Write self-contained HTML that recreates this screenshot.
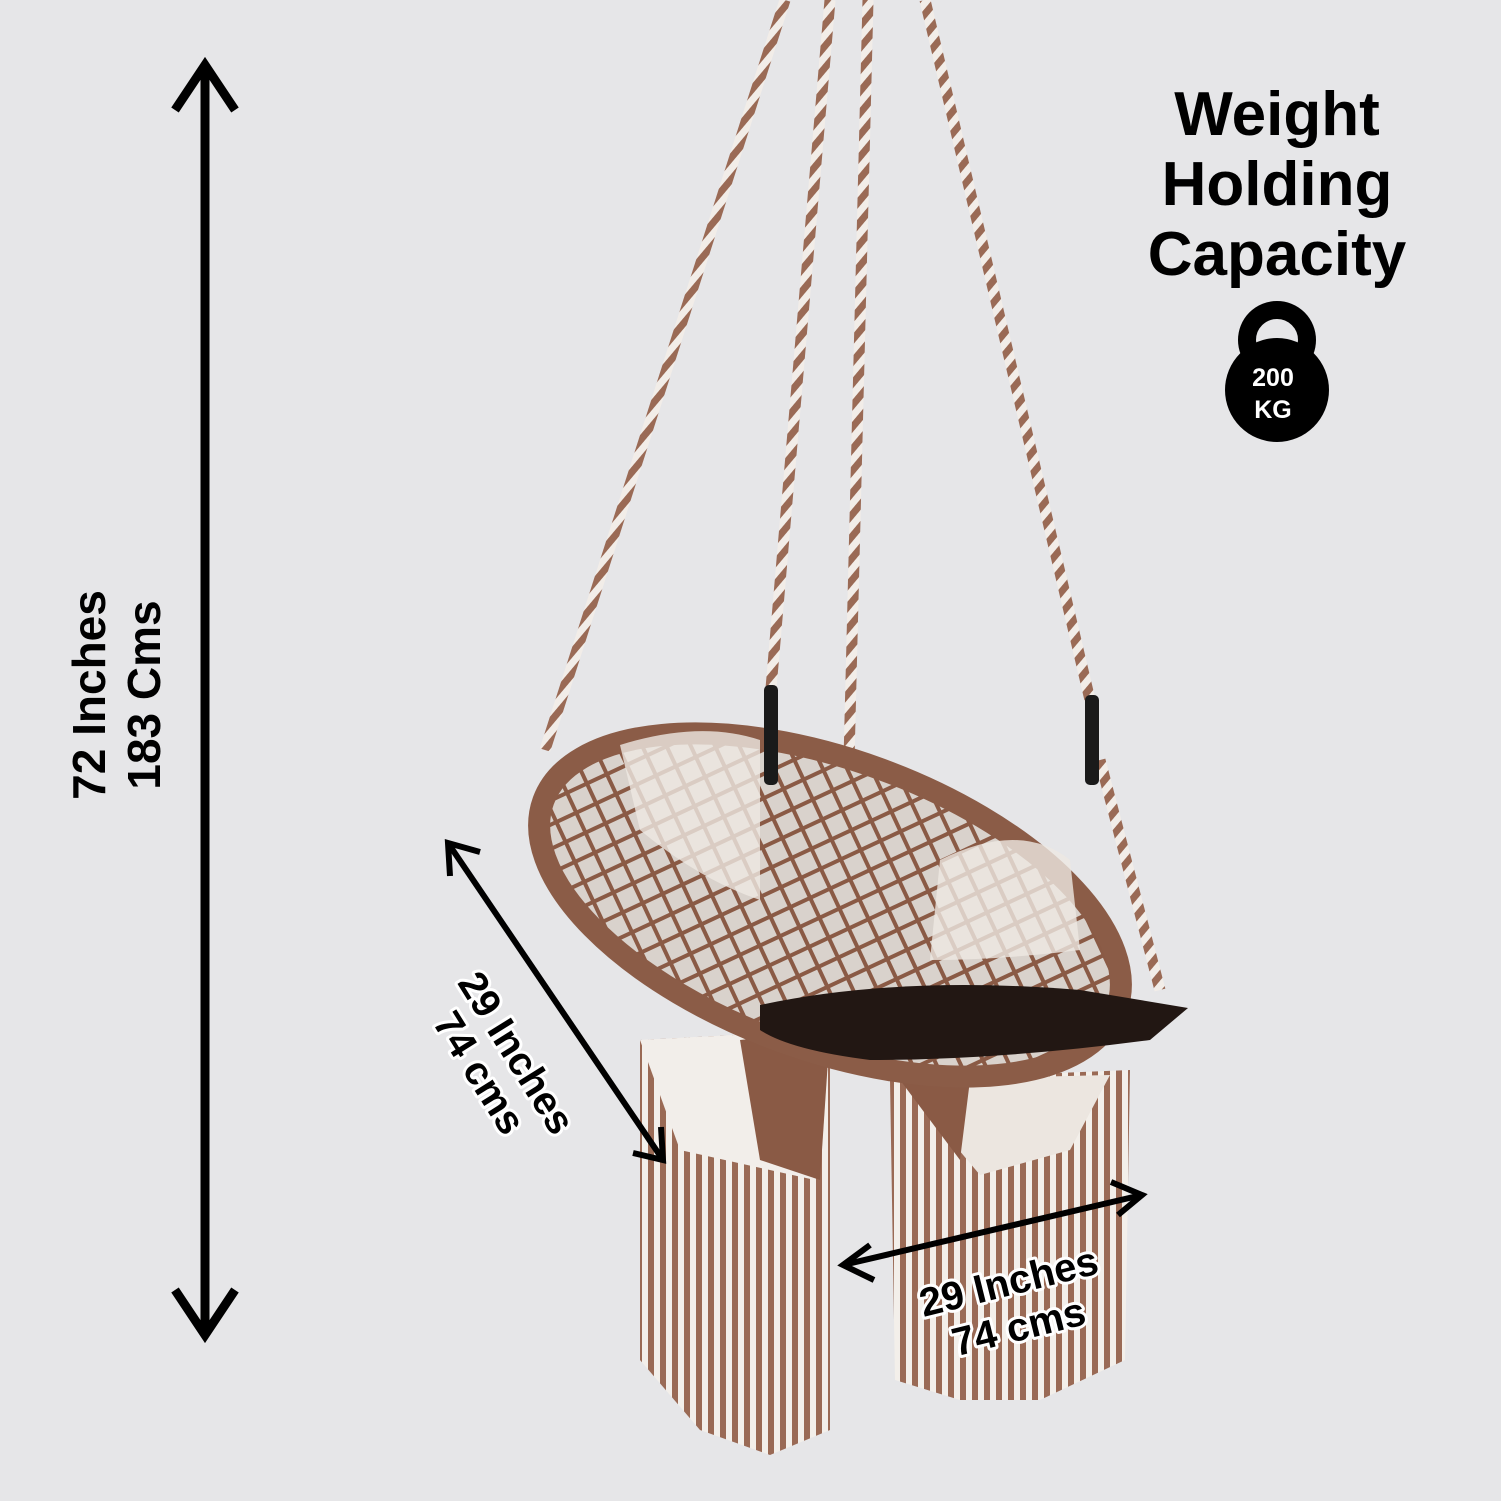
<!DOCTYPE html>
<html><head><meta charset="utf-8"><style>
html,body{margin:0;padding:0;background:#e6e6e8;}
svg{display:block}
text{font-family:"Liberation Sans",sans-serif;font-weight:bold;}
</style></head><body>
<svg width="1501" height="1501" viewBox="0 0 1501 1501" xmlns="http://www.w3.org/2000/svg">
<rect width="1501" height="1501" fill="#e6e6e8"/>
<defs>
<pattern id="rope" width="14" height="14" patternUnits="userSpaceOnUse" patternTransform="rotate(40)">
<rect width="14" height="14" fill="#f2ede8"/><rect width="7" height="14" fill="#9a6a55"/></pattern>
<pattern id="net" width="22" height="22" patternUnits="userSpaceOnUse" patternTransform="rotate(45)">
<rect width="22" height="22" fill="#d9d2cc"/><rect width="22" height="4" fill="#8a5a45"/><rect width="4" height="22" fill="#8a5a45"/></pattern>
<pattern id="fringe" width="12" height="20" patternUnits="userSpaceOnUse">
<rect width="12" height="20" fill="#f3efea"/><rect width="6" height="20" fill="#9a6a55"/></pattern>
</defs>
<g stroke="url(#rope)" stroke-width="11" fill="none">
<line x1="785" y1="0" x2="545" y2="750"/>
<line x1="830" y1="0" x2="770" y2="700"/>
<line x1="868" y1="0" x2="848" y2="800"/>
<line x1="925" y1="0" x2="1090" y2="700"/>
<line x1="1100" y1="760" x2="1160" y2="990"/>
</g>
<path d="M640 1040 L830 1030 L830 1430 L770 1455 L700 1430 L640 1360 Z" fill="url(#fringe)"/>
<path d="M890 1080 L1130 1070 L1125 1360 L1040 1400 L960 1400 L895 1380 Z" fill="url(#fringe)"/>
<path d="M640 1040 L830 1030 L815 1180 L680 1150 Z" fill="#f2eeea"/>
<path d="M740 1040 L830 1030 L820 1180 L760 1160 Z" fill="#8a5a45"/>
<path d="M900 1080 L1110 1075 L1070 1150 L980 1175 Z" fill="#ece6e0"/>
<path d="M900 1080 L970 1080 L960 1160 Z" fill="#8a5a45"/>
<g transform="rotate(20 830 905)">
<ellipse cx="830" cy="905" rx="305" ry="145" fill="url(#net)"/>
<ellipse cx="830" cy="905" rx="305" ry="145" fill="none" stroke="#8b5c47" stroke-width="22"/>
</g>
<path d="M620 745 Q700 720 760 740 L760 900 Q700 880 640 830 Z" fill="#eee8e2" opacity="0.8"/>
<path d="M940 860 Q1020 820 1070 860 L1080 950 Q1000 960 930 960 Z" fill="#eee8e2" opacity="0.8"/>
<path d="M760 1005 Q900 975 1080 990 L1188 1008 L1150 1040 Q1000 1060 870 1060 Q790 1050 760 1030 Z" fill="#221713"/>
<rect x="764" y="685" width="14" height="100" rx="5" fill="#1a1a1a"/>
<rect x="1085" y="695" width="14" height="90" rx="5" fill="#1a1a1a"/>
<g stroke="#000" stroke-width="9" fill="none">
<line x1="205" y1="65" x2="205" y2="1335"/>
<polyline points="175,110 205,65 235,110"/>
<polyline points="175,1290 205,1335 235,1290"/>
</g>
<text transform="translate(105,695) rotate(-90)" font-size="46" text-anchor="middle">72 Inches</text>
<text transform="translate(160,695) rotate(-90)" font-size="46" text-anchor="middle">183 Cms</text>
<text x="1277" y="135" font-size="62" text-anchor="middle">Weight</text>
<text x="1277" y="205" font-size="62" text-anchor="middle">Holding</text>
<text x="1277" y="275" font-size="62" text-anchor="middle">Capacity</text>
<circle cx="1277" cy="340" r="30" fill="none" stroke="#000" stroke-width="18"/>
<circle cx="1277" cy="390" r="52" fill="#000"/>
<text x="1273" y="386" font-size="25" fill="#fff" text-anchor="middle">200</text>
<text x="1273" y="418" font-size="25" fill="#fff" text-anchor="middle">KG</text>
<g stroke="#000" stroke-width="6" fill="none">
<line x1="448" y1="843" x2="663" y2="1160"/>
<polyline points="450,876 448,843 480,852"/>
<polyline points="633,1153 663,1160 661,1127"/>
<line x1="843" y1="1265" x2="1142" y2="1195"/>
<polyline points="870,1245 843,1265 874,1280"/>
<polyline points="1111,1182 1142,1195 1118,1215"/>
</g>
<g font-size="40" stroke="#fff" stroke-width="6" paint-order="stroke" stroke-linejoin="round">
<text transform="translate(505,1060) rotate(58)" text-anchor="middle">29 Inches</text>
<text transform="translate(468,1080) rotate(58)" text-anchor="middle">74 cms</text>
<text transform="translate(1012,1295) rotate(-14)" text-anchor="middle">29 Inches</text>
<text transform="translate(1022,1340) rotate(-14)" text-anchor="middle">74 cms</text>
</g>
</svg>
</body></html>
